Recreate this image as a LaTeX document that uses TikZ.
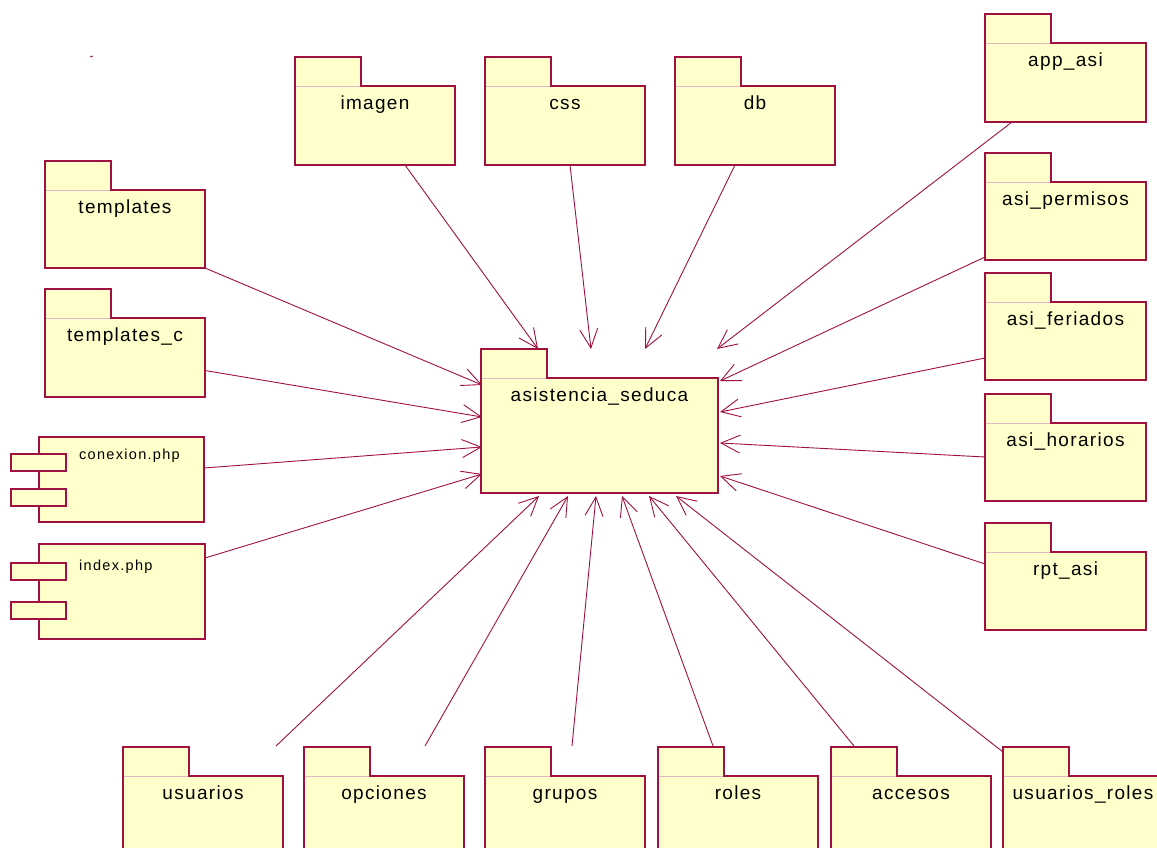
\documentclass[tikz,border=0pt]{standalone}
\usepackage{fontspec}
\setmainfont{Liberation Sans}
\newfontfamily\pkglabelfont[LetterSpace=7]{Liberation Sans}
\newfontfamily\complabelfont[LetterSpace=9]{Liberation Sans}
\usetikzlibrary{arrows.meta}

\definecolor{umlred}{RGB}{160,16,64}
\definecolor{umlfill}{RGB}{255,255,204}

\tikzset{
  pkgbody/.style={draw=umlred, fill=umlfill, line width=1.3pt, rectangle,
    inner sep=0pt, outer sep=0pt},
  pkgedge/.style={draw=umlred, line width=1.3pt, line join=miter},
  pkgseam/.style={draw=umlred!30, line width=0.6pt},
  pkgname/.style={font=\pkglabelfont\fontsize{19}{22}\selectfont, inner sep=0pt},
  compname/.style={font=\complabelfont\fontsize{14.5}{17}\selectfont, inner sep=0pt},
  dep/.style={draw=umlred, line width=0.9pt,
    -{Straight Barb[length=19pt,width=18pt,line width=0.9pt]}},
}

% package: name, left, top of body, width, height, label
\newcommand\pkgbox[6]{%
  \node[pkgbody, minimum width=#4pt, minimum height=#5pt, anchor=north west] (#1) at (#2,#3) {};
  \fill[umlfill] ([xshift=0.65pt,yshift=-0.7pt]#1.north west) rectangle ([xshift=65.35pt,yshift=29pt]#1.north west);
  \draw[pkgseam] ([xshift=0.65pt]#1.north west) -- ([xshift=65.35pt]#1.north west);
  \draw[pkgedge] (#1.north west) -- ++(0,-29) -- ++(66,0) -- ++(0,29);
  \node[pkgname, anchor=base] (#1-name) at ([yshift=-23.5pt]#1.north) {#6};
}

% component: name, left, top, width, height, label, first port top, second port top, baseline
\newcommand\compbox[9]{%
  \node[pkgbody, minimum width=#4pt, minimum height=#5pt, anchor=north west] (#1) at (#2,#3) {};
  \draw[pkgbody] ([xshift=-28pt,yshift=-#7pt]#1.north west) rectangle ++(55,17);
  \draw[pkgbody] ([xshift=-28pt,yshift=-#8pt]#1.north west) rectangle ++(55,17);
  \node[compname, anchor=base west] (#1-name) at ([xshift=40pt,yshift=-#9pt]#1.north west) {#6};
}

\begin{document}
\begin{tikzpicture}[x=1pt, y=-1pt]
\useasboundingbox (0,0) rectangle (1157,848);
\clip (0,0) rectangle (1157,848);

% stray tick
\draw[umlred, line width=0.8pt] (90,57) -- (93,56);

% central package
\pkgbox{seduca}{481}{378}{237}{115}{asistencia\_seduca}

% left column
\pkgbox{templates}{45}{190}{160}{78}{templates}
\pkgbox{templatesc}{45}{318}{160}{79}{templates\_c}
\compbox{conexion}{39}{437}{165}{85}{conexion.php}{17}{52}{22}
\compbox{index}{39}{544}{166}{95}{index.php}{19}{58}{26}

% top row
\pkgbox{imagen}{295}{86}{160}{79}{imagen}
\pkgbox{css}{485}{86}{160}{79}{css}
\pkgbox{db}{675}{86}{160}{79}{db}

% right column
\pkgbox{appasi}{985}{43}{161}{79}{app\_asi}
\pkgbox{permisos}{985}{182}{161}{78}{asi\_permisos}
\pkgbox{feriados}{985}{302}{161}{78}{asi\_feriados}
\pkgbox{horarios}{985}{423}{161}{78}{asi\_horarios}
\pkgbox{rpt}{985}{552}{161}{78}{rpt\_asi}

% bottom row
\pkgbox{usuarios}{123}{776}{160}{79}{usuarios}
\pkgbox{opciones}{304}{776}{160}{79}{opciones}
\pkgbox{grupos}{485}{776}{160}{79}{grupos}
\pkgbox{roles}{658}{776}{160}{79}{roles}
\pkgbox{accesos}{831}{776}{160}{79}{accesos}
\pkgbox{usuroles}{1003}{776}{160}{79}{usuarios\_roles}

% arrow tips around the central package
\coordinate (in-templates) at (482,385);
\coordinate (in-templatesc) at (482,417);
\coordinate (in-conexion) at (482,447);
\coordinate (in-index) at (482,474);
\coordinate (in-imagen) at (538,349);
\coordinate (in-css) at (591,349);
\coordinate (in-db) at (645,349);
\coordinate (in-appasi) at (717,349);
\coordinate (in-permisos) at (720,381);
\coordinate (in-feriados) at (720,412);
\coordinate (in-horarios) at (720,443);
\coordinate (in-rpt) at (720,476);
\coordinate (in-usuarios) at (539,496);
\coordinate (in-opciones) at (568,496);
\coordinate (in-grupos) at (596,496);
\coordinate (in-roles) at (622,496);
\coordinate (in-accesos) at (649,496);
\coordinate (in-usuroles) at (676,496);

% dependencies
\draw[dep] (templates.south east) -- (in-templates);
\draw[dep] ([yshift=-13pt]templatesc.east) -- (in-templatesc);
\draw[dep] ([yshift=11.5pt]conexion.east) -- (in-conexion);
\draw[dep] ([yshift=33.5pt]index.east) -- (in-index);
\draw[dep] ([xshift=30pt]imagen.south) -- (in-imagen);
\draw[dep] ([xshift=5pt]css.south) -- (in-css);
\draw[dep] ([xshift=-20pt]db.south) -- (in-db);
\draw[dep] ([xshift=-53.5pt]appasi.south) -- (in-appasi);
\draw[dep] ([yshift=-36pt]permisos.west) -- (in-permisos);
\draw[dep] ([yshift=-17pt]feriados.west) -- (in-feriados);
\draw[dep] ([yshift=5pt]horarios.west) -- (in-horarios);
\draw[dep] ([yshift=27pt]rpt.west) -- (in-rpt);
\draw[dep] ([xshift=73pt,yshift=30pt]usuarios.north) -- (in-usuarios);
\draw[dep] ([xshift=41pt,yshift=30pt]opciones.north) -- (in-opciones);
\draw[dep] ([xshift=7pt,yshift=30pt]grupos.north) -- (in-grupos);
\draw[dep] ([xshift=-25pt,yshift=30pt]roles.north) -- (in-roles);
\draw[dep] ([xshift=-57pt,yshift=30pt]accesos.north) -- (in-accesos);
\draw[dep] ([xshift=-80pt,yshift=24pt]usuroles.north) -- (in-usuroles);
\end{tikzpicture}
\end{document}
